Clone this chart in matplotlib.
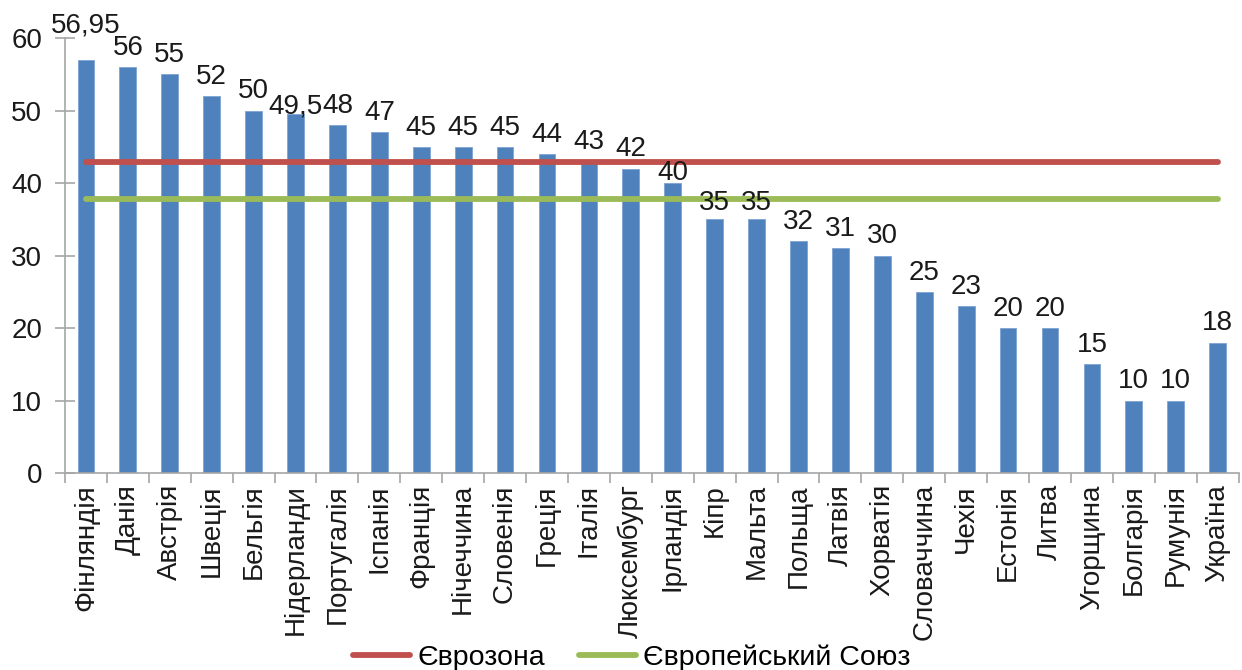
import matplotlib.pyplot as plt
import numpy as np

plt.rcParams['font.family'] = ['Liberation Sans', 'DejaVu Sans']

countries = ['Фінляндія', 'Данія', 'Австрія', 'Швеція', 'Бельгія', 'Нідерланди',
             'Португалія', 'Іспанія', 'Франція', 'Нічеччина', 'Словенія', 'Греція',
             'Італія', 'Люксембург', 'Ірландія', 'Кіпр', 'Мальта', 'Польща',
             'Латвія', 'Хорватія', 'Словаччина', 'Чехія', 'Естонія', 'Литва',
             'Угорщина', 'Болгарія', 'Румунія', 'Україна']
values = [56.95, 56, 55, 52, 50, 49.5, 48, 47, 45, 45, 45, 44, 43, 42, 40,
          35, 35, 32, 31, 30, 25, 23, 20, 20, 15, 10, 10, 18]
eurozone = 42.9
eu = 37.8

bar_color = '#4F81BD'
red = '#C0504D'
green = '#9BBB59'
axis_gray = '#A6A6A6'
text_color = '#1a1a1a'

fig = plt.figure(figsize=(12.42, 6.70), dpi=100)
ax = fig.add_axes([0.0523, 0.294, 0.945, 0.649])

x = np.arange(len(countries))
ax.bar(x, values, width=0.4, color=bar_color, edgecolor='#7EA3D3', linewidth=0.6, zorder=2)

# value labels; a few are shifted up/down so they don't collide
nudge = {0: 2.2, 5: -1.55, 14: -1.3, 15: -0.4, 16: -0.4}
for i, (xi, v) in enumerate(zip(x, values)):
    txt = ('%g' % v).replace('.', ',')
    ax.text(xi, v + 1.7 + nudge.get(i, 0), txt, ha='center', va='baseline',
            fontsize=20, color=text_color, clip_on=False, zorder=5)

ax.plot([x[0], x[-1]], [eurozone, eurozone], color=red, lw=4.2,
        solid_capstyle='round', zorder=3, label='Єврозона')
ax.plot([x[0], x[-1]], [eu, eu], color=green, lw=4.2,
        solid_capstyle='round', zorder=3, label='Європейський Союз')

ax.set_xlim(-0.5, len(countries) - 0.5)
ax.set_ylim(0, 60)
ax.set_yticks(range(0, 61, 10))
ax.tick_params(axis='y', direction='inout', labelsize=20, length=15, width=1.2,
               color=axis_gray, labelcolor=text_color, pad=9)

# category labels at bar centres, tick marks at category boundaries
ax.set_xticks(x)
ax.set_xticklabels(countries, rotation=90, fontsize=20, color=text_color)
ax.tick_params(axis='x', length=0, pad=8)
ax.set_xticks(np.arange(-0.5, len(countries), 1), minor=True)
ax.tick_params(axis='x', which='minor', length=7, width=1.2, color=axis_gray)

for side in ['top', 'right']:
    ax.spines[side].set_visible(False)
for side in ['left', 'bottom']:
    ax.spines[side].set_color(axis_gray)
    ax.spines[side].set_linewidth(1.2)

fig.legend(loc='lower center', bbox_to_anchor=(0.509, -0.04), ncol=2, frameon=False,
           fontsize=20.5, handlelength=2.0, handletextpad=0.25, columnspacing=1.2)

fig.savefig('out.png', dpi=100)
